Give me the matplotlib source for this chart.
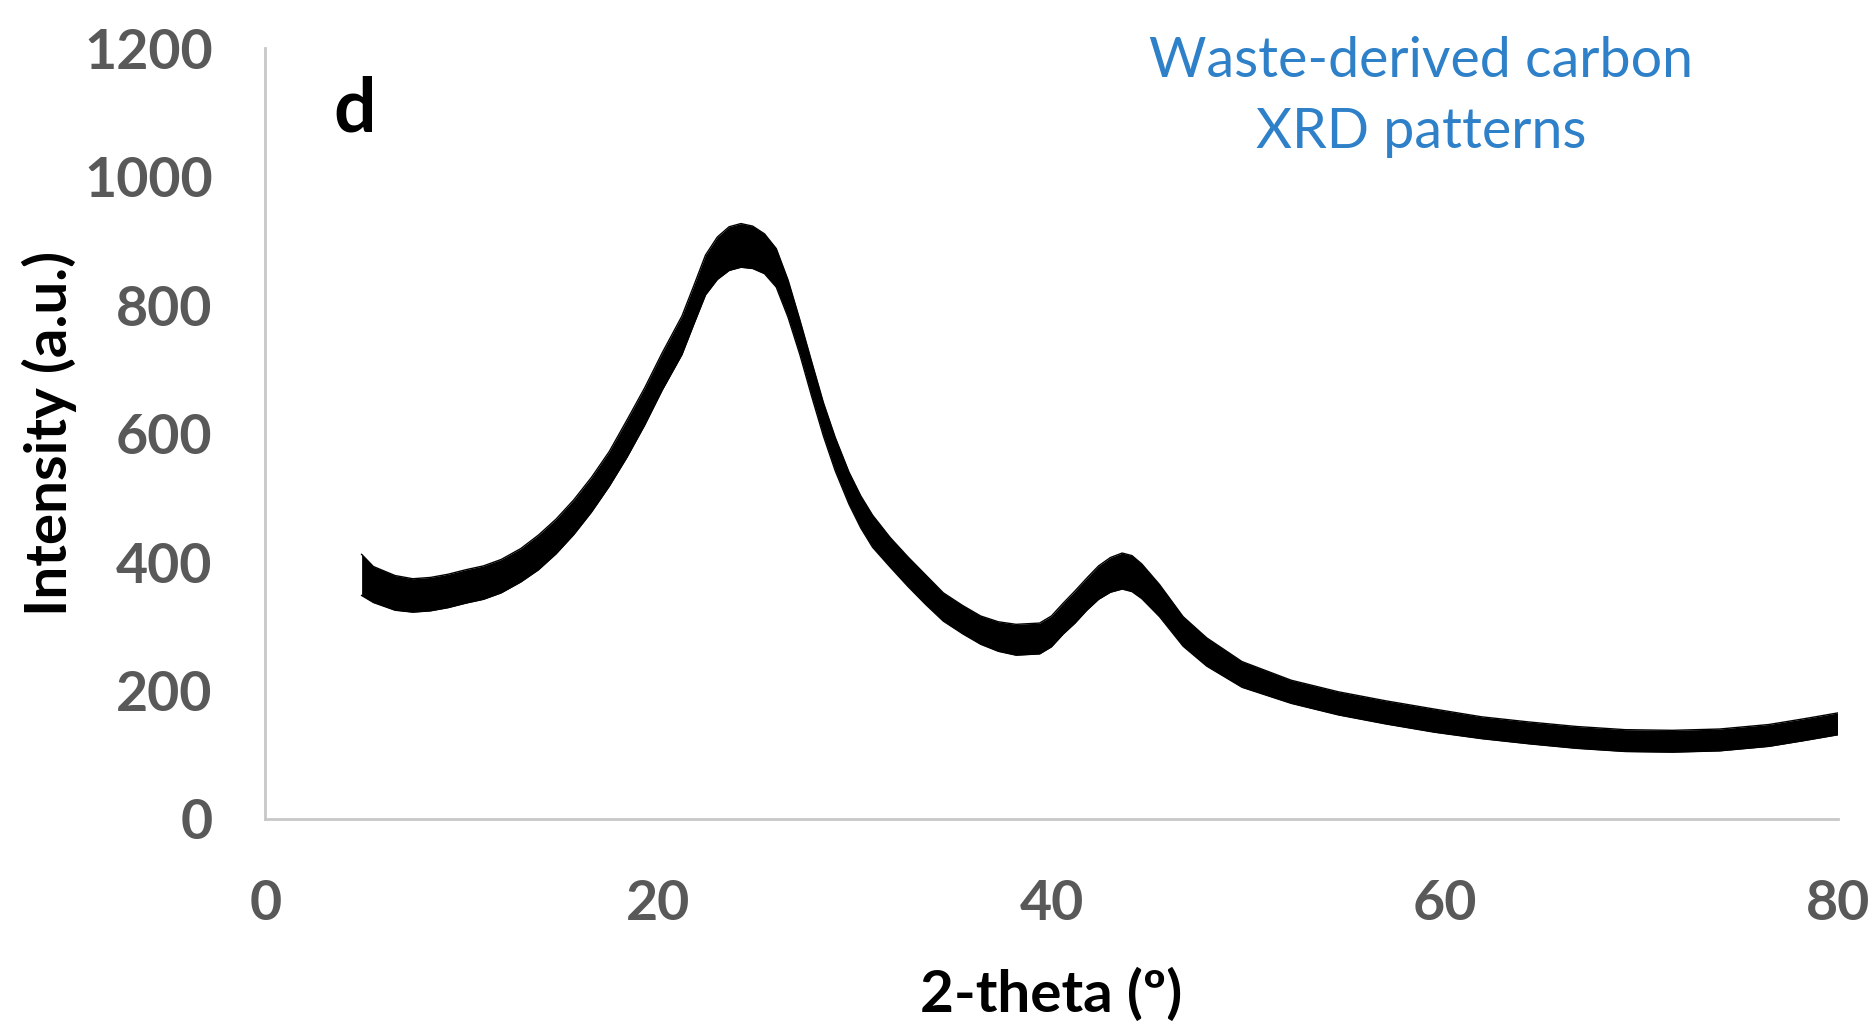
import numpy as np
import matplotlib
matplotlib.use("Agg")
import matplotlib.pyplot as plt

# values
two_theta = [4.9, 5.5, 6.6, 7.5, 8.4, 9.3, 10.2, 11.1, 12.0, 13.0, 13.9, 14.8, 15.7,
             16.6, 17.5, 18.4, 19.3, 20.2, 21.2, 21.8, 22.4, 23.0, 23.6, 24.2, 24.8,
             25.4, 26.0, 26.6, 27.2, 27.8, 28.4, 29.0, 29.7, 30.3, 30.9, 31.8, 32.7,
             33.6, 34.5, 35.5, 36.4, 37.3, 38.2, 39.4, 40.0, 40.6, 41.2, 41.8, 42.4,
             43.0, 43.6, 44.1, 44.6, 45.5, 46.1, 46.7, 47.9, 49.7, 52.2, 54.6, 57.0,
             59.5, 61.9, 64.3, 66.7, 69.2, 71.6, 74.0, 76.5, 78.3, 80.0]
intensity = [380, 365, 352, 348, 350, 355, 362, 368, 378, 395, 415, 440, 470,
             505, 545, 592, 642, 697, 753, 800, 847, 873, 888, 893, 890,
             880, 858, 810, 750, 685, 622, 568, 515, 478, 448, 415, 385,
             357, 330, 310, 294, 284, 279, 281, 292, 312, 330, 350, 368,
             380, 386, 382, 370, 340, 316, 292, 260, 225, 198, 180, 166,
             153, 142, 134, 127, 122, 121, 123, 130, 139, 148]
# half-width of the noisy band around the curve
noise = [32, 28, 27, 26, 26, 26, 26, 26, 26, 26, 27, 27, 27,
         27, 27, 29, 29, 29, 30, 30, 31, 33, 34, 34, 33,
         31, 30, 29, 27, 27, 26, 26, 25, 25, 25, 23, 23,
         23, 22, 22, 22, 23, 24, 24, 24, 24, 25, 25, 26,
         27, 28, 28, 27, 25, 24, 23, 22, 20, 18, 18, 18,
         18, 17, 17, 17, 17, 17, 17, 17, 17, 17]

x_ticks = [0, 20, 40, 60, 80]
y_ticks = [0, 200, 400, 600, 800, 1000, 1200]

plt.rcParams['font.family'] = ['Lato', 'DejaVu Sans']

fig = plt.figure(figsize=(18.75, 10.26), dpi=100)
ax = fig.add_axes([0.1415, 0.2018, 0.8385, 0.7512])

x = np.array(two_theta)
y = np.array(intensity)
n = np.array(noise)
ax.fill_between(x, y - n, y + n, color='black', linewidth=0)
ax.plot(x, y + n, color='black', linewidth=1)
ax.plot(x, y - n, color='black', linewidth=1)

ax.set_xlim(0, 80)
ax.set_ylim(0, 1200)
ax.set_xticks(x_ticks)
ax.set_yticks(y_ticks)
ax.tick_params(length=0, labelsize=40, labelcolor='#595959')
ax.tick_params(axis='x', pad=43)
ax.tick_params(axis='y', pad=38)
for lab in ax.get_xticklabels() + ax.get_yticklabels():
    lab.set_fontweight('bold')

for s in ['top', 'right']:
    ax.spines[s].set_visible(False)
for s in ['left', 'bottom']:
    ax.spines[s].set_color('#c8c8c8')
    ax.spines[s].set_linewidth(2)

ax.set_ylabel('Intensity (a.u.)', fontsize=42, fontweight='bold', labelpad=5)
ax.set_xlabel('2-theta (º)', fontsize=42, fontweight='bold', labelpad=28)

ax.text(0.043, 0.92, 'd', transform=ax.transAxes, fontsize=54,
        fontweight='bold', va='center', ha='left')
ax.text(0.735, 0.937, 'Waste-derived carbon\nXRD patterns', transform=ax.transAxes,
        fontsize=40, color='#2e80c8', ha='center', va='center', linespacing=1.5)

fig.savefig('out.png', dpi=100)
